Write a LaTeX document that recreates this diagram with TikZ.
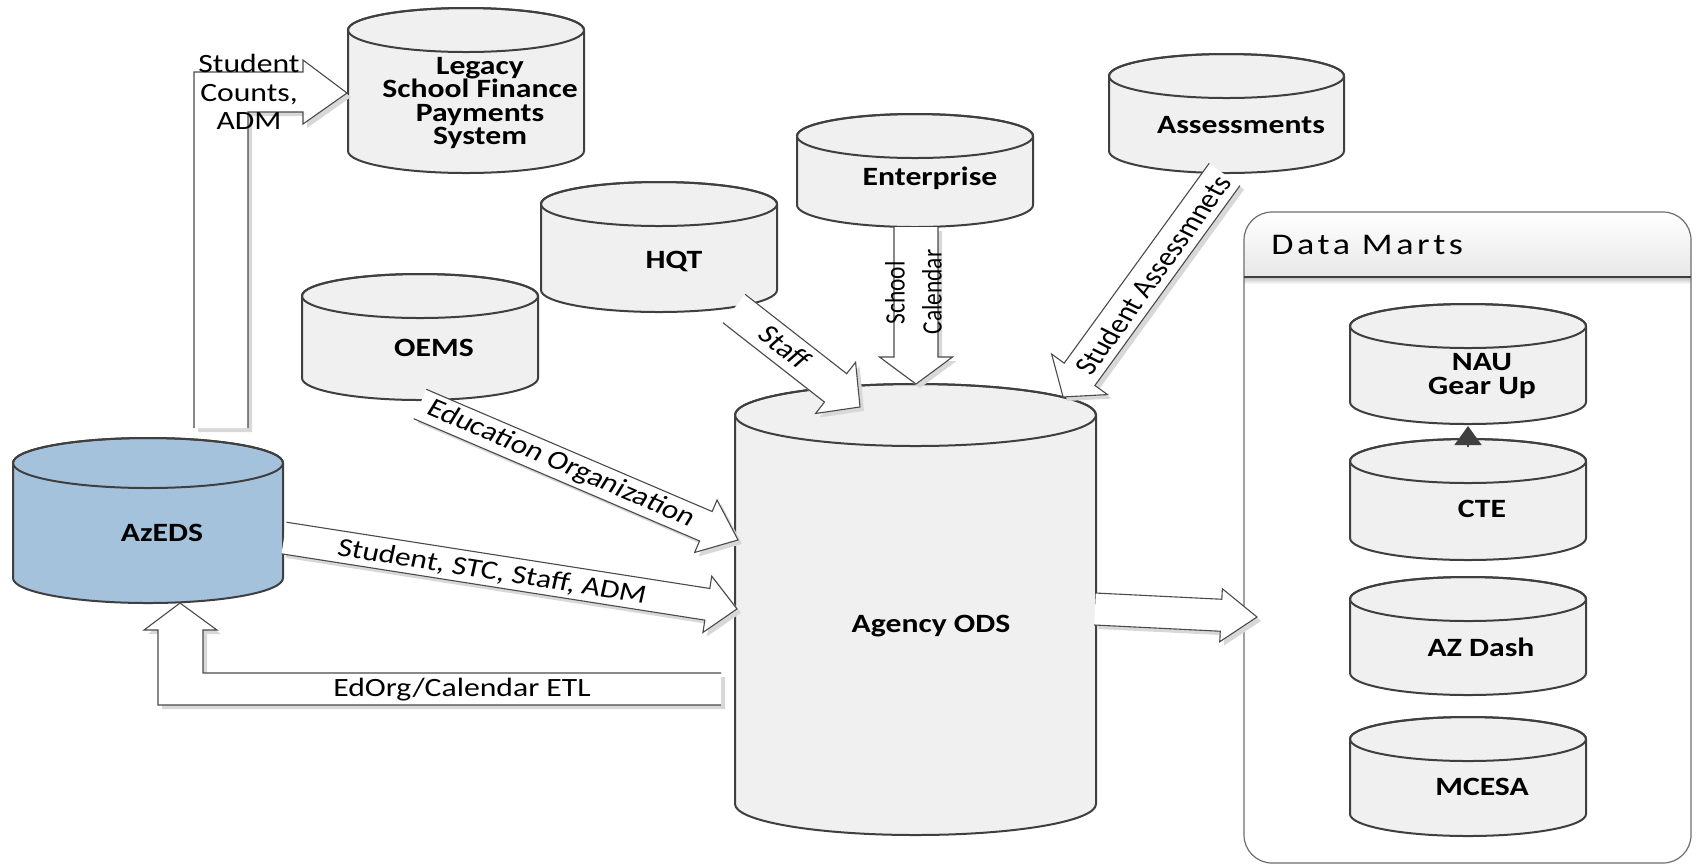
\documentclass[tikz,border=0pt]{standalone}
\usepackage{fontspec}
\setmainfont{Carlito}
\usetikzlibrary{arrows.meta}
\definecolor{cylfill}{HTML}{F0F0F0}
\definecolor{cylline}{HTML}{3F3F3F}
\definecolor{azfill}{HTML}{A5C2DD}
\definecolor{shadowc}{HTML}{D8D8D8}
\definecolor{arrline}{HTML}{4A4A4A}
\definecolor{dmline}{HTML}{6E6E6E}
\tikzset{
  cyl/.style={draw=cylline, line width=1pt},
  arr/.style={draw=arrline, line width=0.55pt},
  lbl/.style={font=\fontsize{13.2}{14.25}\selectfont, inner sep=0pt, xscale=1.2, align=center},
  lblsm/.style={font=\fontsize{11.7}{13}\selectfont, inner sep=0pt, xscale=1.2, align=center},
  cyltxt/.style={font=\fontsize{13.2}{11.7}\selectfont\bfseries, inner sep=0pt, xscale=1.2, align=center},
  dmtxt/.style={font=\fontsize{15}{18}\selectfont\addfontfeatures{LetterSpace=10}, inner sep=0pt, xscale=1.2},
}
% cylinder: x1, x2, ytop, ybot, ry, fill
\newcommand\dbcyl[6]{%
  \pgfmathsetmacro\cxx{(#1+#2)/2}%
  \pgfmathsetmacro\rxx{(#2-#1)/2}%
  \filldraw[cyl, fill=#6] (#1,#3+#5) -- (#1,#4-#5)
    arc[start angle=180, end angle=0, x radius=\rxx, y radius=#5]
    -- (#2,#3+#5)
    arc[start angle=0, end angle=-180, x radius=\rxx, y radius=#5] -- cycle;
  \draw[cyl] (\cxx,#3+#5) ellipse[x radius=\rxx, y radius=#5];
}
% block arrow: tail x, tail y, image angle, length, shaft width, head width, head length
\newcommand\barrow[7]{%
  \begin{scope}[shift={(#1+4,#2+4)}, rotate=-#3]
    \fill[shadowc] (0,#5/2) -- (#4-#7,#5/2) -- (#4-#7,#6/2) -- (#4,0) -- (#4-#7,-#6/2) -- (#4-#7,-#5/2) -- (0,-#5/2) -- cycle;
  \end{scope}
  \begin{scope}[shift={(#1,#2)}, rotate=-#3]
    \fill[white] (0,#5/2) -- (#4-#7,#5/2) -- (#4-#7,#6/2) -- (#4,0) -- (#4-#7,-#6/2) -- (#4-#7,-#5/2) -- (0,-#5/2) -- cycle;
    \draw[arr] (0,#5/2) -- (#4-#7,#5/2) -- (#4-#7,#6/2) -- (#4,0) -- (#4-#7,-#6/2) -- (#4-#7,-#5/2) -- (0,-#5/2);
  \end{scope}
}
\begin{document}
\begin{tikzpicture}[x=0.5pt, y=-0.5pt]
\useasboundingbox (0,0) rectangle (1696,864);
\fill[white] (0,0) rectangle (1696,864);

% Data Marts container
\begin{scope}
  \clip[rounded corners=14pt] (1244,212) rectangle (1691,863);
  \fill[white] (1244,212) rectangle (1691,863);
  \fill[top color=white, bottom color=black!9] (1244,212) rectangle (1691,277);
  \fill[top color=black!22, bottom color=white] (1244,278) rectangle (1691,284);
\end{scope}
\draw[dmline, line width=0.6pt, rounded corners=14pt] (1244,212) rectangle (1691,863);
\draw[cylline, line width=0.8pt] (1244,277) -- (1691,277);
\node[dmtxt, anchor=west] (dmtitle) at (1271,245) {Data Marts};

% cylinders
\dbcyl{348}{584}{8}{173}{22}{cylfill}
\dbcyl{797}{1033}{114}{227}{22}{cylfill}
\dbcyl{1109}{1344}{54}{173}{22}{cylfill}
\dbcyl{541}{777}{182}{312}{22}{cylfill}
\dbcyl{302}{538}{274}{400}{22}{cylfill}
\dbcyl{13}{283}{438}{603}{25}{azfill}
\dbcyl{735}{1096}{384}{835}{31}{cylfill}
\dbcyl{1350}{1586}{304}{424}{22}{cylfill}
\dbcyl{1350}{1586}{439}{560}{22}{cylfill}
\dbcyl{1350}{1586}{577}{695}{22}{cylfill}
\dbcyl{1350}{1586}{717}{836}{22}{cylfill}

% straight block arrows
\barrow{734}{308.5}{38.0}{159.9}{36}{65}{31}
\barrow{420}{404}{23.15}{345.9}{32}{57}{35}
\barrow{284}{538}{8.9}{458.5}{32}{57}{30}
\barrow{1224.6}{174.4}{125.97}{275}{38}{69}{28}
\barrow{1095}{609}{2.83}{162.2}{32}{53}{36}
\barrow{916}{227}{90}{157}{44}{73}{27}

% bent arrow: Student Counts, ADM
\fill[shadowc] (198,432) -- (198,76) -- (307,76) -- (307,64) -- (351,97) -- (307,128) -- (307,116) -- (252,116) -- (252,432) -- cycle;
\fill[white] (194,428) -- (194,72) -- (303,72) -- (303,60) -- (347,93) -- (303,124) -- (303,112) -- (248,112) -- (248,428) -- cycle;
\draw[arr] (194,428) -- (194,72) -- (303,72) -- (303,60) -- (347,93) -- (303,124) -- (303,112) -- (248,112) -- (248,428);

% bent arrow: EdOrg/Calendar ETL
\fill[shadowc] (725,677) -- (207,677) -- (207,634) -- (221,634) -- (183,607) -- (148,634) -- (162,634) -- (162,709) -- (725,709) -- cycle;
\fill[white] (721,673) -- (203,673) -- (203,630) -- (217,630) -- (180,603) -- (144,630) -- (158,630) -- (158,705) -- (721,705) -- cycle;
\draw[arr] (721,673) -- (203,673) -- (203,630) -- (217,630) -- (180,603) -- (144,630) -- (158,630) -- (158,705) -- (721,705);

% CTE -> NAU Gear Up
\coordinate (ctetop) at (1468,447);
\coordinate (naubot) at (1468,426);
\draw[cylline, line width=0.8pt, -{Triangle[width=13.5pt,length=9.5pt]}] (ctetop) -- (naubot);

% cylinder labels
\node[cyltxt] (legacy) at (480,103) {Legacy\\School Finance\\Payments\\System};
\node[cyltxt] (enterprise) at (930,178) {Enterprise};
\node[cyltxt] (assess) at (1241,125) {Assessments};
\node[cyltxt] (hqt) at (674,261) {HQT};
\node[cyltxt] (oems) at (434,348) {OEMS};
\node[cyltxt] (azeds) at (162,533) {AzEDS};
\node[cyltxt] (ods) at (931,626) {Agency ODS};
\node[cyltxt] (nau) at (1482,376) {NAU\\Gear Up};
\node[cyltxt] (cte) at (1482,509) {CTE};
\node[cyltxt] (azdash) at (1481,647) {AZ Dash};
\node[cyltxt] (mcesa) at (1482,787) {MCESA};

% arrow labels
\node[lbl] (lblcounts) at (249,92) {Student\\Counts,\\ADM};
\node[lbl, rotate=-43.2] (lblstaff) at (785,347) {Staff};
\node[lbl, rotate=-27.2] (lbledorg) at (561,464) {Education Organization};
\node[lbl, rotate=-10.6] (lblstudent) at (492,572) {Student, STC, Staff, ADM};
\node[lbl, rotate=58.9] (lblassess) at (1153,275) {Student Assessmnets};
\node[lblsm, rotate=90] (lblschool) at (895,293) {School};
\node[lblsm, rotate=90] (lblcal) at (932,292) {Calendar};
\node[lbl] (lbletl) at (462,690) {EdOrg/Calendar ETL};
\end{tikzpicture}
\end{document}
